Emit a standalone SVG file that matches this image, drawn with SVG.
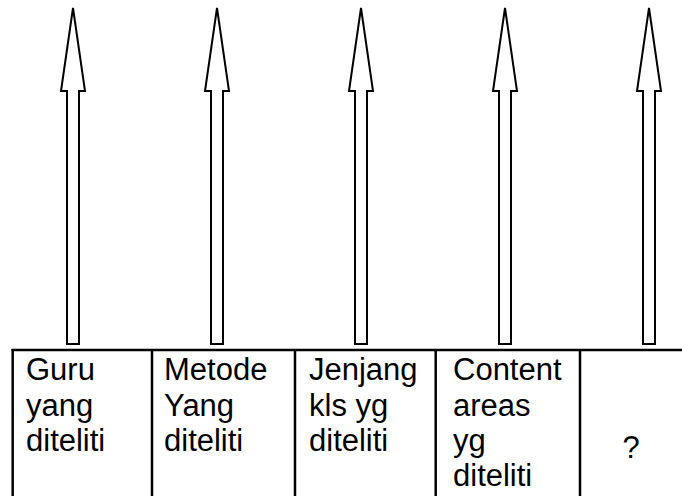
<svg xmlns="http://www.w3.org/2000/svg" width="682" height="496" viewBox="0 0 682 496">
<style>
.arrow{fill:#fff;stroke:#000;stroke-width:2;stroke-linejoin:miter}
.grid{stroke:#000;stroke-width:2.5;fill:none}
.t{font-family:"Liberation Sans",Arial,sans-serif;font-size:31px;fill:#000}
</style>
<rect width="682" height="496" fill="#fff"/>
<g id="connectors">
<polygon class="arrow" points="73,8 85,91 79,91 79,344 67,344 67,91 61,91"/>
<polygon class="arrow" points="217,8 229,91 223,91 223,344 211,344 211,91 205,91"/>
<polygon class="arrow" points="361,8 373,91 367,91 367,344 355,344 355,91 349,91"/>
<polygon class="arrow" points="505,8 517,91 511,91 511,344 499,344 499,91 493,91"/>
<polygon class="arrow" points="649,8 661,91 655,91 655,344 643,344 643,91 637,91"/>
</g>
<g id="table">
<line class="grid" x1="11.5" y1="350" x2="682" y2="350"/>
<line class="grid" x1="12.7" y1="349" x2="12.7" y2="496"/>
<line class="grid" x1="152" y1="349" x2="152" y2="496"/>
<line class="grid" x1="295" y1="349" x2="295" y2="496"/>
<line class="grid" x1="435.7" y1="349" x2="435.7" y2="496"/>
<line class="grid" x1="580" y1="349" x2="580" y2="496"/>
</g>
<g id="cell1"><text class="t" x="26" y="380">Guru</text><text class="t" x="26" y="415.5">yang</text><text class="t" x="26" y="451">diteliti</text></g>
<g id="cell2"><text class="t" x="164" y="380">Metode</text><text class="t" x="164" y="415.5">Yang</text><text class="t" x="164" y="451">diteliti</text></g>
<g id="cell3"><text class="t" x="309" y="380">Jenjang</text><text class="t" x="309" y="415.5">kls yg</text><text class="t" x="309" y="451">diteliti</text></g>
<g id="cell4"><text class="t" x="453" y="380">Content</text><text class="t" x="453" y="415.5">areas</text><text class="t" x="453" y="451">yg</text><text class="t" x="453" y="486">diteliti</text></g>
<g id="cell5"><text class="t" x="631" y="458" text-anchor="middle">?</text></g>
</svg>
